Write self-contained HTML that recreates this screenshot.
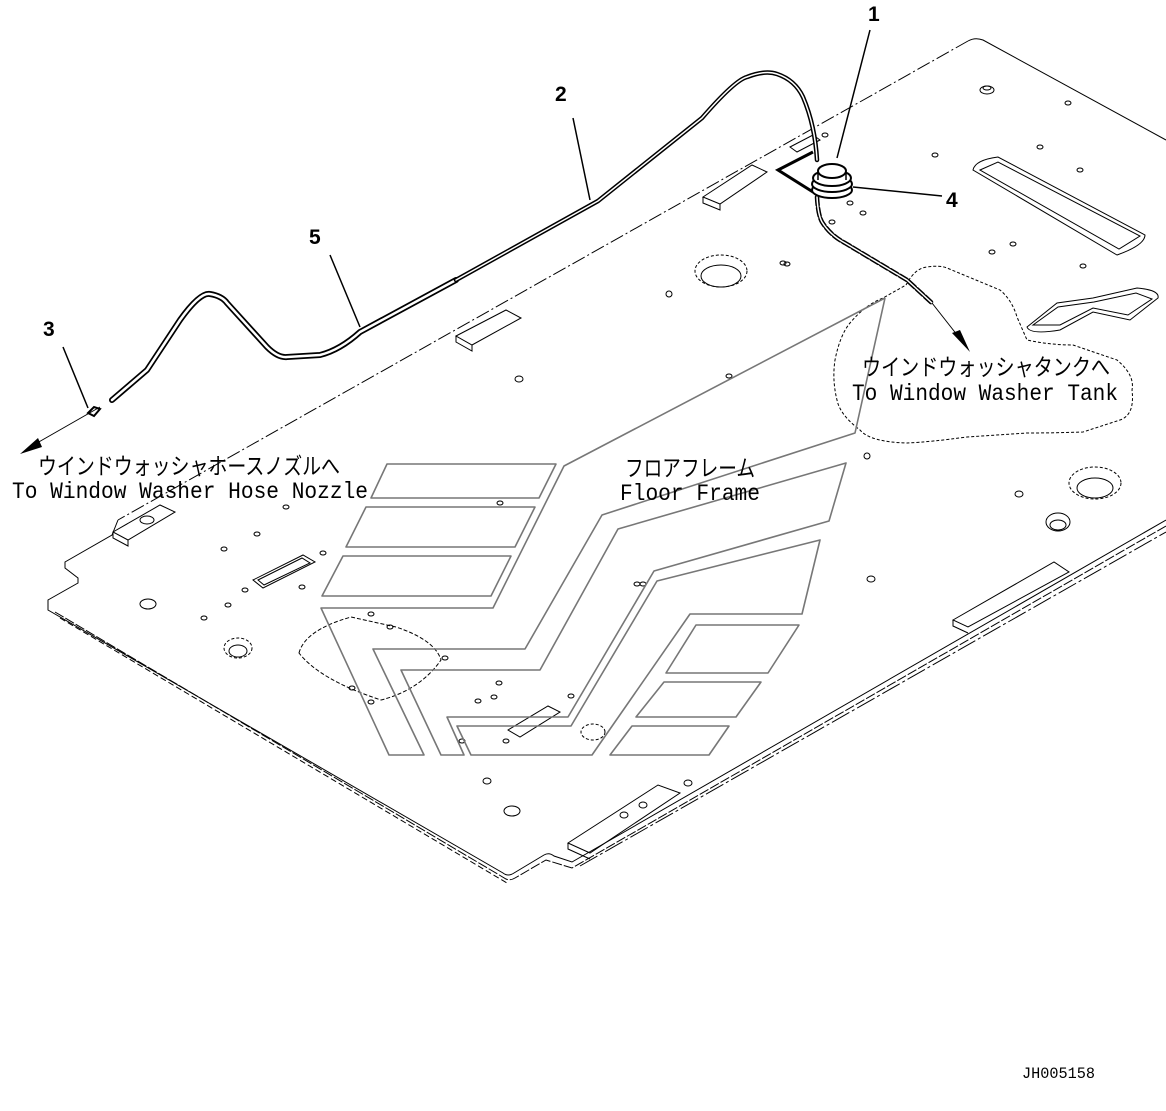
<!DOCTYPE html>
<html><head><meta charset="utf-8"><style>
html,body{margin:0;padding:0;background:#fff;}
svg{display:block;}
text{font-family:"Liberation Mono","Noto Sans CJK JP",monospace;fill:#000;}
</style></head><body>
<svg width="1166" height="1111" viewBox="0 0 1166 1111" xmlns="http://www.w3.org/2000/svg">
<g fill="none" stroke="#000" stroke-width="1">
<path d="M968,41 L118,520" stroke-dasharray="14,3,2,3"/>
<path d="M968,41 Q975,37 983,40 L1166,140"/>
<path d="M118,520 L112,535 L65,562 L65,568 L78,578 L78,583 L48,600 L48,610 L503,873 Q508,877 514,873 L544,855 Q549,852 554,856 L572,862 L1166,520"/>
<path d="M55,612 L506,879 Q510,881 515,878 L546,860 L572,868 L1166,526" stroke-dasharray="10,2"/>
<path d="M60,618 L507,883" stroke-dasharray="6,3"/>
<path d="M580,866 L1166,532" stroke-dasharray="20,3,3,3"/>
<path d="M703,197 L752,165 L767,172 L720,204 Z M703,197 L703,203 L720,210 L720,204"/>
<path d="M456,336 L506,310 L521,318 L472,345 Z M456,336 L456,342 L472,351 L472,345"/>
<path d="M113,532 L160,505 L175,512 L128,540 Z M113,532 L113,538 L128,546 L128,540"/>
<path d="M790,147 L813,135 L820,140 L797,152 Z"/>
<path d="M568,843 L658,785 L680,793 L590,853 Z M568,843 L568,849 L590,859"/>
<path d="M953,620 L1054,562 L1069,572 L968,627 Z M953,620 L953,626 L968,633"/>
<path d="M253,580 L303,555 L315,562 L263,588 Z M258,580 L302,558 L310,563 L264,585 Z"/>
<path d="M508,730 L548,706 L560,712 L520,737 Z"/>
<path d="M973,170 Q975,160 998,157 L1145,235 Q1145,245 1117,255 L973,170 Z"/>
<path d="M980,170 L998,162 L1140,236 L1119,249 Z"/>
<path d="M1027,327 L1057,303 L1093,298 L1137,288 Q1160,290 1158,298 L1130,320 L1093,312 L1060,330 Q1030,335 1027,327 Z"/>
<path d="M1033,325 L1058,307 L1094,302 L1136,293 L1152,299 L1128,315 L1093,308 L1060,325 Z"/>
<ellipse cx="987" cy="90" rx="7" ry="4"/><ellipse cx="987" cy="88" rx="4" ry="2"/>
<ellipse cx="1068" cy="103" rx="3" ry="2"/><ellipse cx="1040" cy="147" rx="3" ry="2"/>
<ellipse cx="935" cy="155" rx="3" ry="2"/><ellipse cx="1080" cy="170" rx="3" ry="2"/>
<ellipse cx="850" cy="203" rx="3" ry="2"/><ellipse cx="863" cy="213" rx="3" ry="2"/>
<ellipse cx="832" cy="222" rx="3" ry="2"/><ellipse cx="1013" cy="244" rx="3" ry="2"/>
<ellipse cx="992" cy="252" rx="3" ry="2"/><ellipse cx="1083" cy="266" rx="3" ry="2"/>
<ellipse cx="783" cy="263" rx="3" ry="2"/><ellipse cx="825" cy="135" rx="3" ry="2"/>
<ellipse cx="721" cy="271" rx="26" ry="16" stroke-dasharray="3,2"/><ellipse cx="721" cy="276" rx="20" ry="11"/>
<ellipse cx="669" cy="294" rx="3" ry="3"/><ellipse cx="787" cy="264" rx="3" ry="2"/>
<ellipse cx="519" cy="379" rx="4" ry="3"/><ellipse cx="729" cy="376" rx="3" ry="2"/>
<ellipse cx="867" cy="456" rx="3" ry="3"/><ellipse cx="1019" cy="494" rx="4" ry="3"/>
<ellipse cx="1095" cy="483" rx="26" ry="16" stroke-dasharray="3,2"/><ellipse cx="1095" cy="488" rx="18" ry="10"/>
<ellipse cx="1058" cy="522" rx="12" ry="9"/><ellipse cx="1058" cy="525" rx="8" ry="5"/>
<ellipse cx="871" cy="579" rx="4" ry="3"/><ellipse cx="643" cy="584" rx="3" ry="2"/>
<ellipse cx="147" cy="520" rx="7" ry="4"/><ellipse cx="148" cy="604" rx="8" ry="5"/>
<ellipse cx="286" cy="507" rx="3" ry="2"/><ellipse cx="257" cy="534" rx="3" ry="2"/>
<ellipse cx="224" cy="549" rx="3" ry="2"/><ellipse cx="323" cy="553" rx="3" ry="2"/>
<ellipse cx="245" cy="590" rx="3" ry="2"/><ellipse cx="302" cy="587" rx="3" ry="2"/>
<ellipse cx="228" cy="605" rx="3" ry="2"/><ellipse cx="204" cy="618" rx="3" ry="2"/>
<ellipse cx="238" cy="648" rx="14" ry="10" stroke-dasharray="3,2"/><ellipse cx="238" cy="651" rx="9" ry="6"/>
<ellipse cx="487" cy="781" rx="4" ry="3"/><ellipse cx="512" cy="811" rx="8" ry="5"/>
<ellipse cx="688" cy="783" rx="4" ry="3"/><ellipse cx="643" cy="805" rx="4" ry="3"/><ellipse cx="624" cy="815" rx="4" ry="3"/>
<ellipse cx="593" cy="732" rx="12" ry="8" stroke-dasharray="3,2"/>
<ellipse cx="500" cy="503" rx="3" ry="2"/><ellipse cx="637" cy="584" rx="3" ry="2"/>
<ellipse cx="371" cy="614" rx="3" ry="2"/><ellipse cx="390" cy="627" rx="3" ry="2"/>
<ellipse cx="445" cy="658" rx="3" ry="2"/><ellipse cx="352" cy="688" rx="3" ry="2"/>
<ellipse cx="371" cy="702" rx="3" ry="2"/><ellipse cx="499" cy="683" rx="3" ry="2"/>
<ellipse cx="478" cy="701" rx="3" ry="2"/><ellipse cx="494" cy="697" rx="3" ry="2"/>
<ellipse cx="571" cy="696" rx="3" ry="2"/><ellipse cx="462" cy="741" rx="3" ry="2"/>
<ellipse cx="506" cy="741" rx="3" ry="2"/>
<path d="M299,653 Q305,630 351,617 L396,627 Q435,640 441,660 Q420,690 381,700 Q320,680 299,653 Z" stroke-dasharray="4,2"/>
<path d="M906,285 Q915,268 927,267 Q940,265 947,268 L1000,290 Q1012,300 1017,317 L1027,340 Q1050,345 1073,345 L1117,360 Q1135,375 1132,390 Q1135,415 1120,420 L1083,432 Q1055,433 1027,433 L967,437 Q930,442 907,443 Q870,442 860,430 Q840,415 837,400 Q832,380 835,360 Q840,335 850,323 Q865,305 883,298 Z" stroke-dasharray="3,2"/>
</g>
<g fill="none" stroke="#777" stroke-width="1.6" stroke-linejoin="round">
<path d="M885,298 L564,466 L493,608 L321,608 L389,755 L424,755 L373,649 L525,649 L602,515 L855,433 L885,298"/>
<path d="M618,529 L846,463 L829,521 L654,571 L568,717 L447,717 L464,755 L441,755 L401,670 L540,670 Z"/>
<path d="M657,581 L820,540 L802,614 L690,614 L592,755 L471,755 L457,726 L571,726 Z"/>
<path d="M387,464 L556,464 L539,498 L371,498 Z"/>
<path d="M366,507 L535,507 L515,547 L346,547 Z"/>
<path d="M343,556 L511,556 L491,596 L322,596 Z"/>
<path d="M696,625 L799,625 L768,673 L666,673 Z"/>
<path d="M664,682 L761,682 L736,717 L636,717 Z"/>
<path d="M632,726 L729,726 L709,755 L610,755 Z"/>
</g>
<g fill="none" stroke-linecap="round" stroke-linejoin="round">
<path d="M112,400 L133,382 L147,370 L180,320 Q200,292 210,294 Q222,296 227,303 L267,347 Q278,358 287,357 L320,355 Q340,350 360,332 L456,280" stroke="#000" stroke-width="6"/>
<path d="M112,400 L133,382 L147,370 L180,320 Q200,292 210,294 Q222,296 227,303 L267,347 Q278,358 287,357 L320,355 Q340,350 360,332 L456,280" stroke="#fff" stroke-width="2.5"/>
<path d="M456,280 L598,201 L702,118 Q735,80 747,77 Q765,70 777,74 Q795,80 803,97 Q815,125 817,160" stroke="#000" stroke-width="4.5"/>
<path d="M456,280 L598,201 L702,118 Q735,80 747,77 Q765,70 777,74 Q795,80 803,97 Q815,125 817,160" stroke="#fff" stroke-width="1.5"/>
<path d="M817,197 Q818,215 822,222 Q830,235 845,243 L907,280 L932,303" stroke="#000" stroke-width="4.5" stroke-dasharray="8,3"/>
<path d="M817,197 Q818,215 822,222 Q830,235 845,243 L907,280 L932,303" stroke="#fff" stroke-width="1.5"/>
</g>
<g fill="none" stroke="#000">
<path d="M813,152 L778,170 L813,192" stroke-width="3"/>
<ellipse cx="832" cy="190" rx="20" ry="8" stroke-width="2" fill="#fff"/>
<ellipse cx="832" cy="184" rx="20" ry="8" stroke-width="2" fill="#fff"/>
<ellipse cx="832" cy="178" rx="19" ry="8" stroke-width="2" fill="#fff"/>
<path d="M818,172 L818,180 M846,172 L846,180" stroke-width="1.5"/>
<ellipse cx="832" cy="171" rx="14" ry="7" stroke-width="2" fill="#fff"/>
<path d="M932,303 L965,345" stroke-width="1"/>
<path d="M100,407 L30,447" stroke-width="1"/>
<path d="M88,413 l6,-6 l6,2 l-6,7 z" stroke-width="2"/>
<path d="M870,30 L837,158 M942,196 L853,187 M573,118 L590,200 M330,255 L360,327 M63,347 L88,408" stroke-width="1.5"/>
</g>
<polygon points="970,352 952,333 960,330" fill="#000"/>
<polygon points="20,454 38,438 42,447" fill="#000"/>
<g font-weight="bold" font-size="21">
<text x="868" y="21" style="font-family:'Liberation Sans',sans-serif">1</text>
<text x="555" y="101" style="font-family:'Liberation Sans',sans-serif">2</text>
<text x="309" y="244" style="font-family:'Liberation Sans',sans-serif">5</text>
<text x="43" y="336" style="font-family:'Liberation Sans',sans-serif">3</text>
<text x="946" y="207" style="font-family:'Liberation Sans',sans-serif">4</text>
</g>
<g font-size="23">
<text x="38" y="474" textLength="302" lengthAdjust="spacingAndGlyphs">ウインドウォッシャホースノズルへ</text>
<text x="12" y="498" textLength="356" lengthAdjust="spacingAndGlyphs">To Window Washer Hose Nozzle</text>
<text x="862" y="375" textLength="248" lengthAdjust="spacingAndGlyphs">ウインドウォッシャタンクへ</text>
<text x="852" y="400" textLength="266" lengthAdjust="spacingAndGlyphs">To Window Washer Tank</text>
<text x="625" y="476" textLength="130" lengthAdjust="spacingAndGlyphs">フロアフレーム</text>
<text x="620" y="500" textLength="140" lengthAdjust="spacingAndGlyphs">Floor Frame</text>
<text x="1022" y="1078" font-size="16" textLength="73" lengthAdjust="spacingAndGlyphs">JH005158</text>
</g>
</svg>
</body></html>
